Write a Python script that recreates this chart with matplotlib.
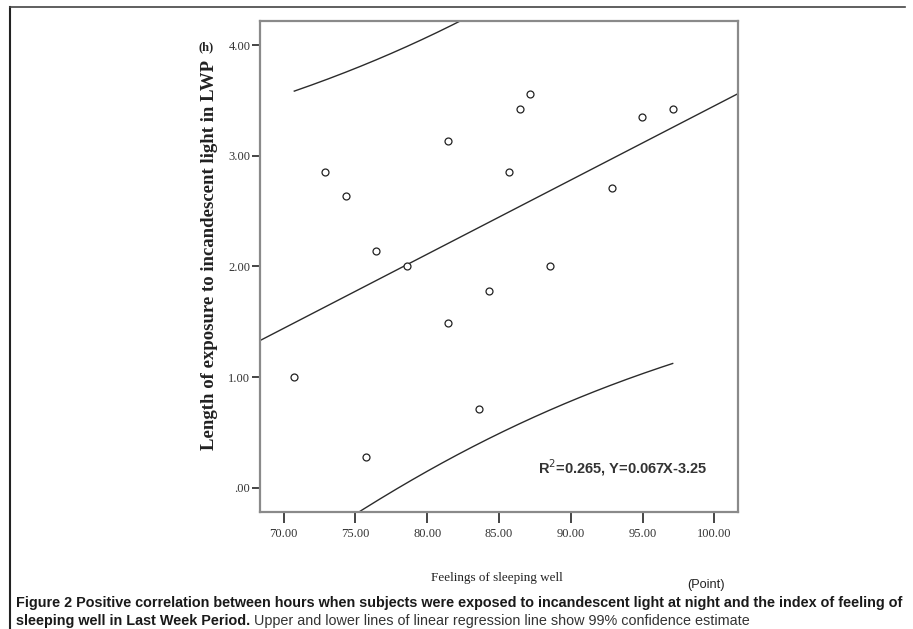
import numpy as np
import matplotlib
matplotlib.use("Agg")
import matplotlib.pyplot as plt
from matplotlib.lines import Line2D

# Feelings of sleeping well (points) vs. hours of incandescent light exposure (LWP)
feelings = [70.74, 72.90, 74.34, 76.45, 75.73, 78.57, 81.47, 81.47, 83.58,
            84.28, 85.72, 86.46, 87.16, 88.55, 92.87, 94.99, 97.10]
exposure = [1.00, 2.85, 2.64, 2.14, 0.28, 2.00, 3.13, 1.49, 0.71,
            1.78, 2.85, 3.42, 3.56, 2.00, 2.71, 3.35, 3.42]

# Regression reported on the chart
r_squared = 0.265
slope = 0.067
intercept = -3.25
t_crit = 2.131  # Student t, df = 15

x_ticks = [70, 75, 80, 85, 90, 95, 100]
x_tick_labels = ["70.00", "75.00", "80.00", "85.00", "90.00", "95.00", "100.00"]
y_ticks = [0, 1, 2, 3, 4]
y_tick_labels = [".00", "1.00", "2.00", "3.00", "4.00"]

W, H = 913, 629
fig = plt.figure(figsize=(W / 100, H / 100), dpi=100)
fig.patch.set_facecolor("white")

ax = fig.add_axes([260 / W, 1 - 511.7 / H, (738 - 260) / W, (511.7 - 21) / H])
ax.set_xlim(68.35, 101.65)
ax.set_ylim(-0.217, 4.217)

x = np.array(feelings)
y = np.array(exposure)
n = len(x)

# fitted line across the whole frame
xl = np.array(ax.get_xlim())
ax.plot(xl, slope * xl + intercept, color="#2b2b2b", lw=1.0)

# interval for individual predictions over the observed range
resid = y - (slope * x + intercept)
s = np.sqrt(np.sum(resid ** 2) / (n - 2))
xbar = x.mean()
sxx = np.sum((x - xbar) ** 2)
xs = np.linspace(x.min(), x.max(), 200)
half = t_crit * s * np.sqrt(1 + 1 / n + (xs - xbar) ** 2 / sxx)
fit = slope * xs + intercept
ax.plot(xs, fit + half, color="#2b2b2b", lw=1.0)
ax.plot(xs, fit - half, color="#2b2b2b", lw=1.0)

ax.plot(x, y, linestyle="none", marker="o", ms=5, mfc="white",
        mec="#222222", mew=0.9, zorder=3)

for side in ["left", "right", "top", "bottom"]:
    ax.spines[side].set_color("#8a8a8a")
    ax.spines[side].set_linewidth(1.6)

serif = "Liberation Serif"
ax.set_xticks(x_ticks)
ax.set_xticklabels(x_tick_labels, fontfamily=serif, fontsize=9, color="#333333")
ax.set_yticks(y_ticks)
ax.set_yticklabels(y_tick_labels, fontfamily=serif, fontsize=9, color="#333333")
ax.tick_params(axis="x", direction="out", length=8, width=1.4, color="#444444", pad=4)
ax.tick_params(axis="y", direction="out", length=6, width=1.4, color="#444444", pad=1)

ax.text(0.937, 0.09, f"R$^2$=0.265, Y=0.067X-3.25", transform=ax.transAxes,
        ha="right", va="center", fontfamily="Liberation Sans", fontweight="bold",
        fontsize=10.5, color="#333333")

fig.canvas.draw()
renderer = fig.canvas.get_renderer()


def fit_width(txt, target_px):
    w = txt.get_window_extent(renderer).width
    txt.set_fontsize(txt.get_fontsize() * target_px / w)


def px(xp, yp):
    return xp / W, 1 - yp / H


ylab = fig.text(*px(209, 255), "Length of exposure to incandescent light in LWP",
                rotation=90, ha="center", va="center", fontfamily=serif,
                fontweight="bold", fontsize=11, color="#222222")
fig.canvas.draw()
bb = ylab.get_window_extent(renderer)
ylab.set_fontsize(ylab.get_fontsize() * 390 / bb.height)

fig.text(*px(206, 47), "(h)", ha="center", va="center", fontfamily=serif,
         fontweight="bold", fontsize=9, color="#222222")

xlab = fig.text(*px(497, 578), "Feelings of sleeping well", ha="center", va="center",
                fontfamily=serif, fontsize=10, color="#222222")
fit_width(xlab, 131)

pt = fig.text(*px(706, 585), "(Point)", ha="center", va="center",
              fontfamily="Liberation Sans", fontsize=8, color="#222222")
fit_width(pt, 38)

cap1 = fig.text(*px(16, 603),
                "Figure 2 Positive correlation between hours when subjects were exposed to "
                "incandescent light at night and the index of feeling of",
                ha="left", va="center", fontfamily="Liberation Sans",
                fontweight="bold", fontsize=9, color="#1a1a1a")
fit_width(cap1, 889)
fs_cap = cap1.get_fontsize()

cap2a = fig.text(*px(16, 621), "sleeping well in Last Week Period.", ha="left",
                 va="center", fontfamily="Liberation Sans", fontweight="bold",
                 fontsize=fs_cap, color="#1a1a1a")
fig.canvas.draw()
wa = cap2a.get_window_extent(renderer).width
cap2b = fig.text(*px(16 + wa + 4, 621),
                 "Upper and lower lines of linear regression line show 99% confidence estimate",
                 ha="left", va="center", fontfamily="Liberation Sans",
                 fontsize=fs_cap, color="#333333")

# page frame
fig.add_artist(Line2D([10 / W, 10 / W], [1 - 7 / H, 0], transform=fig.transFigure,
                      color="#222222", lw=1.5))
fig.add_artist(Line2D([10 / W, 905 / W], [1 - 7 / H, 1 - 7 / H], transform=fig.transFigure,
                      color="#444444", lw=1.2))

fig.savefig("out.png", dpi=100)
